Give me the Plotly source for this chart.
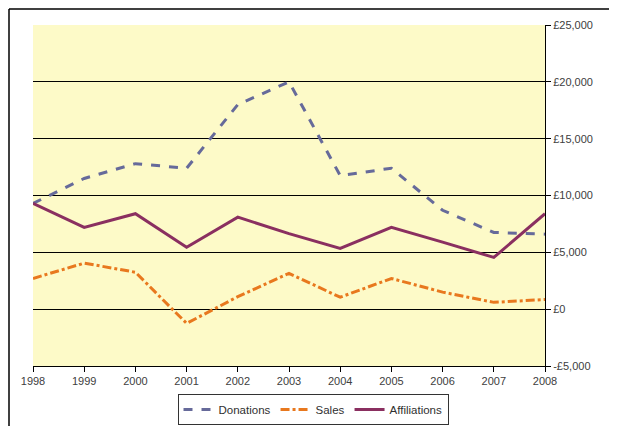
import plotly.graph_objects as go

years = [1998, 1999, 2000, 2001, 2002, 2003, 2004, 2005, 2006, 2007, 2008]
donations = [9300, 11500, 12800, 12400, 18000, 20000, 11750, 12400, 8700, 6750, 6600]
sales = [2700, 4050, 3250, -1250, 1100, 3150, 1050, 2700, 1500, 600, 850]
affiliations = [9300, 7200, 8400, 5450, 8100, 6650, 5350, 7200, 5900, 4550, 8400]

y_ticks = [-5000, 0, 5000, 10000, 15000, 20000, 25000]
y_labels = ["-£5,000", "£0", "£5,000", "£10,000", "£15,000", "£20,000", "£25,000"]
x_labels = [str(y) for y in years]

# page has an 8px body margin, so the figure is sized to fit the rest
W, H = 609, 418
L, R, T, B = 25, 72, 17, 60

fig = go.Figure()
fig.add_trace(go.Scatter(x=years, y=donations, name="Donations", mode="lines",
                         line=dict(color="#666a9a", width=3, dash="dash")))
fig.add_trace(go.Scatter(x=years, y=sales, name="Sales", mode="lines",
                         line=dict(color="#e8781e", width=3, dash="dashdot")))
fig.add_trace(go.Scatter(x=years, y=affiliations, name="Affiliations", mode="lines",
                         line=dict(color="#8a2f60", width=3)))

pw = W - L - R
ph = H - T - B
# outer chart border (left and top)
bx = (1 - L) / pw
by = 1 + (T - 1) / ph
fig.add_shape(type="line", xref="paper", yref="paper",
              x0=bx, x1=(W + 5 - L) / pw, y0=by, y1=by,
              line=dict(color="black", width=1.5))
fig.add_shape(type="line", xref="paper", yref="paper",
              x0=bx, x1=bx, y0=by, y1=-(B + 5) / ph,
              line=dict(color="black", width=1.5))

fig.update_layout(
    width=W, height=H,
    margin=dict(l=L, r=R, t=T, b=B, autoexpand=False),
    paper_bgcolor="white",
    plot_bgcolor="#fdfac8",
    font=dict(family="Liberation Sans, Arial, sans-serif", size=11, color="#404040"),
    showlegend=True,
    legend=dict(orientation="h", x=(313 - 8 - L) / pw, xanchor="center",
                y=-(394 - 366) / ph, yanchor="top",
                bordercolor="#333333", borderwidth=1, bgcolor="white",
                font=dict(size=11.5, color="#303030"),
                itemwidth=30, tracegroupgap=0),
    xaxis=dict(range=[1998, 2008], tickvals=years, ticktext=x_labels,
               showgrid=False, zeroline=False,
               showline=True, linecolor="black", linewidth=1,
               ticks="outside", ticklen=5, tickcolor="black"),
    yaxis=dict(range=[-5000, 25000], side="right", tickvals=y_ticks, ticktext=y_labels,
               showgrid=True, gridcolor="black", gridwidth=1,
               zeroline=False,
               showline=True, linecolor="black", linewidth=1,
               ticks="outside", ticklen=5, tickcolor="black"),
)

fig.write_html("out.html")
